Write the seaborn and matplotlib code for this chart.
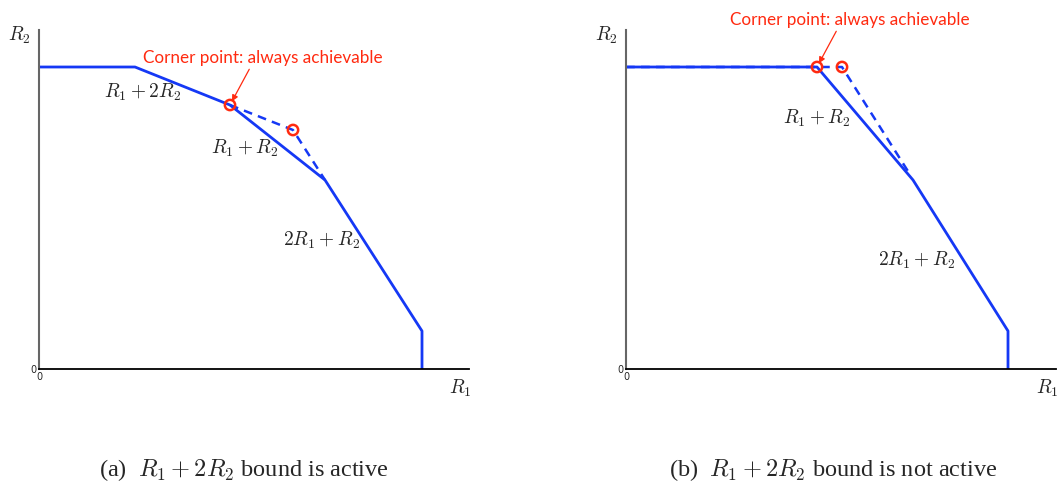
import numpy as np
import pandas as pd
import matplotlib
matplotlib.use("Agg")
import matplotlib.pyplot as plt
import seaborn as sns

# region boundaries (arbitrary rate units)
a_r1 = [0, 0.96, 1.91, 2.86, 3.83, 3.83]
a_r2 = [3.02, 3.02, 2.64, 1.89, 0.38, 0.0]
a_dash_r1 = [1.91, 2.54, 2.86]
a_dash_r2 = [2.64, 2.39, 1.89]
a_corners_r1 = [1.91, 2.54]
a_corners_r2 = [2.64, 2.39]

b_r1 = [0, 1.91, 2.87, 3.82, 3.82]
b_r2 = [3.02, 3.02, 1.89, 0.38, 0.0]
b_dash_r1 = [0, 1.91, 2.16, 2.85]
b_dash_r2 = [3.02, 3.02, 3.02, 1.93]
b_corners_r1 = [1.91, 2.16]
b_corners_r2 = [3.02, 3.02]

captions = [r"(a)  $R_1+2R_2$ bound is active", r"(b)  $R_1+2R_2$ bound is not active"]
note = "Corner point: always achievable"

sns.set_theme(style="white")
plt.rcParams["mathtext.fontset"] = "cm"
plt.rcParams["font.family"] = ["Liberation Serif", "DejaVu Serif"]

BLUE = "#1538f5"
RED = "#ff2a10"

fig = plt.figure(figsize=(10.57, 4.84), dpi=100)
ax_a = fig.add_axes([39 / 1057, 115 / 484, 430 / 1057, 339 / 484])
ax_b = fig.add_axes([626 / 1057, 115 / 484, 430 / 1057, 339 / 484])


def draw(ax, r1, r2, dr1, dr2, cr1, cr2):
    sol = pd.DataFrame({"R1": r1, "R2": r2})
    dash = pd.DataFrame({"R1": dr1, "R2": dr2})
    pts = pd.DataFrame({"R1": cr1, "R2": cr2})
    sns.lineplot(data=dash, x="R1", y="R2", sort=False, estimator=None, ax=ax,
                 color=BLUE, lw=1.8, linestyle=(0, (3.5, 2.5)))
    sns.lineplot(data=sol, x="R1", y="R2", sort=False, estimator=None, ax=ax,
                 color=BLUE, lw=2)
    sns.scatterplot(data=pts, x="R1", y="R2", ax=ax, s=55, marker="o",
                    facecolors="none", edgecolor=RED, linewidth=1.8, zorder=5)
    ax.set_xlim(0, 4.30)
    ax.set_ylim(0, 3.39)
    ax.set_xlabel("")
    ax.set_ylabel("")
    ax.set_xticks([0])
    ax.set_yticks([0])
    ax.tick_params(length=0, labelsize=7, pad=2)
    ax.set_xticklabels(["0"], family="DejaVu Sans")
    ax.set_yticklabels(["0"], family="DejaVu Sans")
    for s in ["top", "right"]:
        ax.spines[s].set_visible(False)
    ax.spines["bottom"].set_color("black")
    ax.spines["bottom"].set_linewidth(1.3)
    ax.spines["left"].set_color("#666666")
    ax.spines["left"].set_linewidth(1.5)
    ax.text(-0.2, 3.34, r"$R_2$", fontsize=14, ha="center", va="center")
    ax.text(4.21, -0.19, r"$R_1$", fontsize=14, ha="center", va="center")


draw(ax_a, a_r1, a_r2, a_dash_r1, a_dash_r2, a_corners_r1, a_corners_r2)
draw(ax_b, b_r1, b_r2, b_dash_r1, b_dash_r2, b_corners_r1, b_corners_r2)

# labels on the faces
ax_a.text(1.04, 2.77, r"$R_1+2R_2$", fontsize=14, ha="center", va="center")
ax_a.text(2.06, 2.21, r"$R_1+R_2$", fontsize=14, ha="center", va="center")
ax_a.text(2.83, 1.29, r"$2R_1+R_2$", fontsize=14, ha="center", va="center")
ax_b.text(1.91, 2.51, r"$R_1+R_2$", fontsize=14, ha="center", va="center")
ax_b.text(2.91, 1.09, r"$2R_1+R_2$", fontsize=14, ha="center", va="center")

arrow = dict(arrowstyle="-|>", color=RED, lw=0.9, mutation_scale=9, shrinkA=0, shrinkB=3)
ax_a.annotate(note, xy=(1.91, 2.64), xytext=(2.24, 3.11), color=RED,
              fontsize=12.3, family="Lato", ha="center", va="center",
              arrowprops=dict(arrow, relpos=(0.45, 0.0)))
ax_b.annotate(note, xy=(1.91, 3.02), xytext=(2.24, 3.49), color=RED,
              fontsize=12.3, family="Lato", ha="center", va="center",
              arrowprops=dict(arrow, relpos=(0.45, 0.0)), annotation_clip=False)

fig.text(244 / 1057, 1 - 470 / 484, captions[0], fontsize=17.5, ha="center", va="center")
fig.text(833 / 1057, 1 - 470 / 484, captions[1], fontsize=17.5, ha="center", va="center")

fig.savefig("out.png", dpi=100)
